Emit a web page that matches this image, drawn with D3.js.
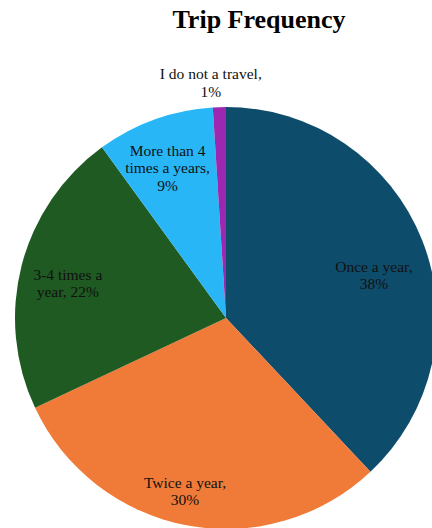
<!DOCTYPE html>
<html>
<head>
<meta charset="utf-8">
<script src="https://cdn.jsdelivr.net/npm/d3@7"></script>
<style>
  html, body { margin: 0; padding: 0; background: #ffffff; }
  svg { display: block; }
</style>
</head>
<body>
<script>
// Trip frequency survey shares (percent), clockwise from 12 o'clock
const categories = ["Once a year", "Twice a year", "3-4 times a year", "More than 4 times a years", "I do not a travel"];
const values = [38, 30, 22, 9, 1];
const colors = ["#0e4c6b", "#f07a37", "#1e5a21", "#29b6f6", "#9c27b0"];
// Wrapped label lines (category, value) as printed on the slices
const labelLines = [
  ["Once a year,", "38%"],
  ["Twice a year,", "30%"],
  ["3-4 times a", "year, 22%"],
  ["More than 4", "times a years,", "9%"],
  ["I do not a travel,", "1%"]
];
const title = "Trip Frequency";

const W = 432, H = 528;
const cx = 226, cy = 318, R = 211;

// label placement relative to each slice: angle shift (deg) and distance from centre
const labelPlace = [
  { dA: 5.4, r: 154 },
  { dA: 2.5, r: 178 },
  { dA: -1.9, r: 162 },
  { dA: -1.5, r: 161 },
  { dA: -1.9, r: 236 }
];

const svg = d3.select("body").append("svg")
  .attr("width", W).attr("height", H);

svg.append("text")
  .attr("x", 259).attr("y", 28)
  .attr("text-anchor", "middle")
  .attr("font-family", "'Liberation Serif', 'Times New Roman', serif")
  .attr("font-weight", "bold")
  .attr("font-size", 26)
  .attr("fill", "#000")
  .text(title);

const data = categories.map((c, i) => ({ name: c, value: values[i], color: colors[i], lines: labelLines[i], place: labelPlace[i] }));

const pie = d3.pie().value(d => d.value).sort(null);
const arc = d3.arc().innerRadius(0).outerRadius(R);
const arcs = pie(data);

const g = svg.append("g").attr("transform", `translate(${cx},${cy})`);

g.selectAll("path.slice")
  .data(arcs)
  .join("path")
  .attr("class", "slice")
  .attr("d", arc)
  .attr("fill", d => d.data.color);

const fs = 15.5, lh = 17.5;
g.selectAll("text.lbl")
  .data(arcs)
  .join("text")
  .attr("class", "lbl")
  .attr("text-anchor", "middle")
  .attr("font-family", "'Liberation Serif', 'Times New Roman', serif")
  .attr("font-size", fs)
  .attr("fill", "#111")
  .each(function (d) {
    const mid = (d.startAngle + d.endAngle) / 2 + d.data.place.dA * Math.PI / 180;
    const x = Math.sin(mid) * d.data.place.r;
    const y = -Math.cos(mid) * d.data.place.r;
    const n = d.data.lines.length;
    const y0 = y - (n - 1) * lh / 2 + fs * 0.35;
    d3.select(this).selectAll("tspan")
      .data(d.data.lines)
      .join("tspan")
      .attr("x", x)
      .attr("y", (t, i) => y0 + i * lh)
      .text(t => t);
  });
</script>
</body>
</html>
